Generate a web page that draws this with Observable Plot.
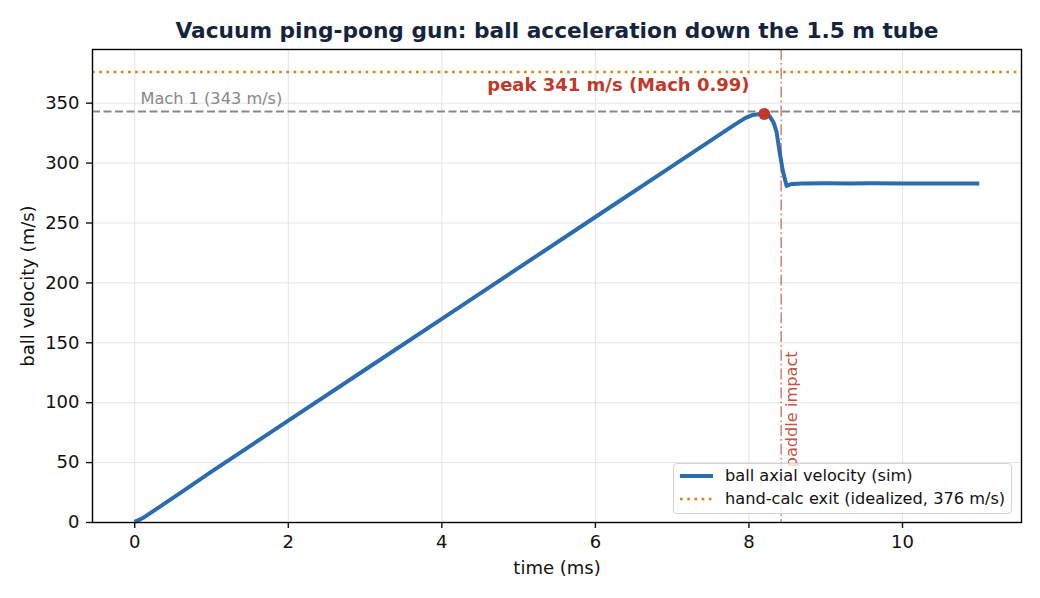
<!DOCTYPE html>
<html>
<head>
<meta charset="utf-8">
<script src="https://cdn.jsdelivr.net/npm/d3@7"></script>
<script src="https://cdn.jsdelivr.net/npm/@observablehq/plot@0.6"></script>
<style>
  html, body { margin: 0; padding: 0; background: #fff; }
  #wrap { position: relative; width: 1040px; height: 598px; font-family: "DejaVu Sans", sans-serif; }
  #legend { position: absolute; left: 673px; top: 463px; width: 337px; height: 49px;
    border: 1px solid #d4d4d4; border-radius: 4px; background: rgba(255,255,255,0.8);
    font-size: 16.2px; color: #111; }
  .row { position: absolute; left: 0; height: 22px; width: 100%; }
  .row svg { position: absolute; left: 5px; top: 0; }
  .row span { position: absolute; left: 51px; top: 1px; white-space: nowrap; line-height: 20px; }
</style>
</head>
<body>
<div id="wrap">
  <div id="chart"></div>
  <div id="legend">
    <div class="row" style="top:1px">
      <svg width="36" height="22"><line x1="1" x2="34" y1="11" y2="11" stroke="#2b6cb0" stroke-width="4"/></svg>
      <span>ball axial velocity (sim)</span>
    </div>
    <div class="row" style="top:24px">
      <svg width="36" height="22"><line x1="1" x2="34" y1="11" y2="11" stroke="#d68910" stroke-width="2.7" stroke-dasharray="2.7 4.5"/></svg>
      <span>hand-calc exit (idealized, 376 m/s)</span>
    </div>
  </div>
</div>
<script>
const time = [0, 0.1, 0.3, 0.6, 1, 2, 3, 4, 5, 6, 7, 7.8, 7.95, 8.05, 8.15, 8.2, 8.27, 8.32, 8.36, 8.4, 8.44, 8.49, 8.56, 8.7, 9.0, 9.3, 9.6, 10, 10.5, 11];
const velocity = [0.5, 3.5, 12, 25, 42.5, 85, 127.5, 170, 212.5, 255, 297.5, 331.5, 337.5, 340.2, 341, 341, 339, 334, 326, 309, 294, 281, 282.6, 283, 283.2, 283, 283.1, 283, 283, 283];
const mach1 = 343;
const handCalc = 376;
const peak = {t: 8.2, v: 341};
const impactT = 8.42;
const xTicks = [0, 2, 4, 6, 8, 10];
const yTicks = [0, 50, 100, 150, 200, 250, 300, 350];

const data = time.map((t, i) => ({t, v: velocity[i]}));
const font = "DejaVu Sans";

const chart = Plot.plot({
  width: 1040,
  height: 598,
  marginLeft: 92,
  marginRight: 19,
  marginTop: 49,
  marginBottom: 76,
  style: {fontFamily: font, fontSize: "18px", background: "white", color: "#111"},
  x: {domain: [-0.55, 11.55]},
  y: {domain: [0, 394.8]},
  marks: [
    Plot.gridX(xTicks, {stroke: "#e4e4e4", strokeOpacity: 1, strokeWidth: 1}),
    Plot.gridY(yTicks, {stroke: "#e4e4e4", strokeOpacity: 1, strokeWidth: 1}),
    Plot.ruleY([handCalc], {stroke: "#d68910", strokeWidth: 2.7, strokeDasharray: "2.7 4.5"}),
    Plot.ruleY([mach1], {stroke: "#888888", strokeWidth: 2, strokeDasharray: "8 3.5"}),
    Plot.ruleX([impactT], {stroke: "#c0392b", strokeOpacity: 0.6, strokeWidth: 1.6, strokeDasharray: "11 3 1.8 3"}),
    Plot.line(data, {x: "t", y: "v", stroke: "#2b6cb0", strokeWidth: 4, strokeLinejoin: "round", strokeLinecap: "butt"}),
    Plot.dot([peak], {x: "t", y: "v", r: 6, fill: "#c0392b", stroke: "none"}),
    Plot.text(["peak 341 m/s (Mach 0.99)"], {x: 6.30, y: 365, text: d => d, fill: "#c0392b", fontWeight: "bold", fontSize: 18, lineAnchor: "middle"}),
    Plot.text(["Mach 1 (343 m/s)"], {x: 0.074, y: 353.5, text: d => d, fill: "#888888", fontSize: 16.2, textAnchor: "start", lineAnchor: "middle"}),
    Plot.text(["paddle impact"], {x: impactT, y: 46, text: d => d, fill: "#c0392b", fillOpacity: 0.9, fontSize: 16.2, rotate: -90, textAnchor: "start", lineAnchor: "middle", dx: 11}),
    Plot.frame({stroke: "black", strokeWidth: 1.4}),
    Plot.axisX(xTicks, {tickSize: 6, tickPadding: 7, strokeWidth: 1.4, fontSize: 18, label: null, tickFormat: d => String(d)}),
    Plot.axisY(yTicks, {tickSize: 6, tickPadding: 7, strokeWidth: 1.4, fontSize: 18, label: null, tickFormat: d => String(d)}),
    Plot.text(["time (ms)"], {frameAnchor: "bottom", dy: 46, text: d => d, fontSize: 18, textAnchor: "middle", lineAnchor: "middle", fill: "#111"}),
    Plot.text(["ball velocity (m/s)"], {frameAnchor: "left", dx: -64, rotate: -90, text: d => d, fontSize: 18, textAnchor: "middle", lineAnchor: "middle", fill: "#111"}),
    Plot.text(["Vacuum ping-pong gun: ball acceleration down the 1.5 m tube"], {frameAnchor: "top", dy: -18, text: d => d, fontSize: 21.7, fontWeight: "bold", fill: "#14243c", textAnchor: "middle", lineAnchor: "middle"})
  ]
});
document.getElementById("chart").appendChild(chart);
</script>
</body>
</html>
